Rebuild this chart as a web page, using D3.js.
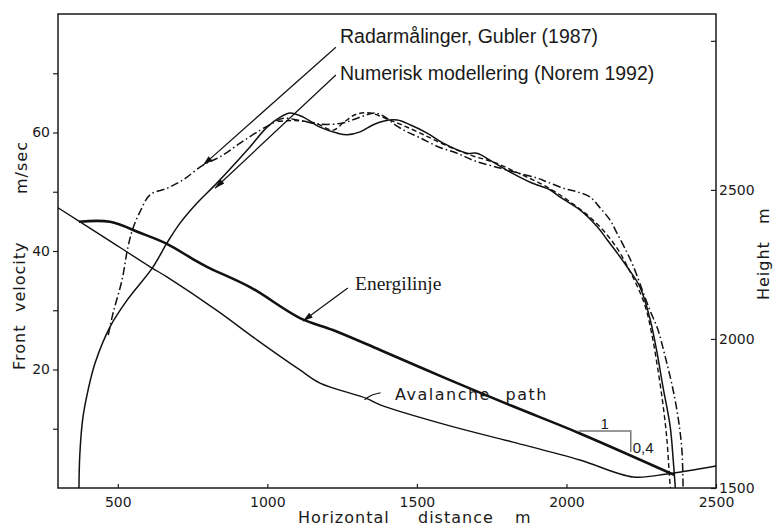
<!DOCTYPE html>
<html>
<head>
<meta charset="utf-8">
<script src="https://cdn.jsdelivr.net/npm/d3@7"></script>
<style>
  body { margin: 0; background: #fff; }
  svg text { fill: #1a1a1a; }
  .axis text { font-family: "DejaVu Sans", sans-serif; font-size: 14px; }
  .axis line { stroke: #222; stroke-width: 1.2; }
  .axis path { display: none; }
  .title { font-family: "DejaVu Sans", sans-serif; font-size: 16px; letter-spacing: 1px; }
</style>
</head>
<body>
<svg id="chart" width="778" height="529"></svg>
<script>
// horizontal distance (m) / front velocity (m/s) - solid line
var modelDist = [370, 373, 383, 400, 424, 474, 531, 615, 665, 708, 765, 832, 932, 999, 1043,
  1076, 1120, 1176, 1233, 1267, 1310, 1354, 1387, 1434, 1477, 1534, 1588, 1668, 1701, 1755,
  1812, 1879, 1946, 1979, 2046, 2103, 2136, 2169, 2203, 2246, 2280, 2303, 2323, 2347, 2357, 2364];
var modelVel = [0, 5.7, 11.8, 16.4, 21.1, 27.2, 31.7, 37.1, 41.4, 44.7, 48.1, 51.5, 57.0, 60.9, 62.6,
  63.3, 62.6, 60.9, 59.9, 59.6, 60.1, 61.3, 61.9, 62.1, 61.3, 59.9, 58.2, 56.5, 56.5, 55.0,
  53.3, 51.6, 50.3, 49.1, 46.9, 44.1, 41.9, 39.7, 37.3, 33.9, 28.4, 22.8, 17.0, 10.3, 4.7, 0];

// radar measurements - dash-dot
var radarDist = [468, 484, 514, 534, 551, 574, 608, 665, 718, 785, 842, 909, 976, 1019, 1053,
  1109, 1176, 1253, 1310, 1360, 1394, 1427, 1467, 1511, 1571, 1634, 1694, 1778, 1835, 1902,
  1938, 1995, 2035, 2079, 2112, 2146, 2169, 2203, 2223, 2256, 2279, 2306, 2329, 2353, 2373, 2386, 2390];
var radarVel = [25.8, 29.5, 35.1, 40.7, 43.9, 46.6, 49.5, 50.6, 52.0, 54.5, 55.9, 58.2, 60.4, 61.6, 62.4,
  62.0, 61.4, 61.6, 62.6, 63.3, 62.6, 61.3, 60.1, 59.1, 57.6, 56.5, 55.2, 54.0, 53.2, 52.3,
  51.6, 50.5, 50.0, 49.1, 47.3, 45.2, 43.0, 39.7, 37.5, 33.1, 30.0, 26.7, 22.4, 17.4, 12.0, 6.4, 0];

// second measured curve - dashed
var thirdDist = [1036, 1093, 1159, 1220, 1253, 1293, 1343, 1394, 1444, 1511, 1594, 1678, 1761,
  1845, 1928, 2012, 2096, 2162, 2219, 2262, 2286, 2306, 2323, 2336, 2343, 2347];
var thirdVel = [61.9, 62.0, 61.6, 60.4, 61.6, 63.0, 63.3, 62.4, 61.4, 59.9, 57.9, 56.2, 54.9,
  53.0, 51.0, 48.3, 44.9, 41.0, 35.9, 30.9, 25.8, 19.9, 14.0, 8.1, 3.0, 0];

// avalanche path (height m)
var pathDist = [300, 447, 608, 664, 832, 965, 1109, 1176, 1333, 1377, 1601, 1821, 2045, 2223, 2336, 2500];
var pathHeight = [2440, 2346, 2242, 2208, 2095, 1997, 1896, 1852, 1800, 1779, 1711, 1654, 1594, 1537, 1547, 1574];

// energy line (height m)
var energyDist = [370, 474, 574, 664, 751, 798, 942, 1109, 1219, 1377, 1601, 1821, 2045, 2360];
var energyHeight = [2393, 2393, 2356, 2319, 2268, 2242, 2174, 2070, 2030, 1963, 1866, 1774, 1683, 1544];

var xTicks = [500, 1000, 1500, 2000, 2500];
var velTicks = [10, 20, 30, 40, 50, 60, 70];
var velLabels = [20, 40, 60];
var hgtTicks = [1500, 2000, 2500, 3000];
var hgtLabels = [1500, 2000, 2500];

var svg = d3.select("#chart");

var x = d3.scaleLinear().domain([300, 2500]).range([58, 716]);
var yVel = d3.scaleLinear().domain([0, 80]).range([488, 14]);
var yHgt = d3.scaleLinear().domain([1500, 3090]).range([488, 14]);

// arrowhead
svg.append("defs").append("marker")
  .attr("id", "head")
  .attr("viewBox", "0 0 10 6")
  .attr("refX", 10).attr("refY", 3)
  .attr("markerWidth", 11).attr("markerHeight", 6)
  .attr("markerUnits", "userSpaceOnUse")
  .attr("orient", "auto")
  .append("path").attr("d", "M0,0 L10,3 L0,6 Z").attr("fill", "#111");

// axes
svg.append("g").attr("class", "axis")
  .attr("transform", "translate(0,488)")
  .call(d3.axisBottom(x).tickValues(xTicks).tickSize(-4).tickPadding(9).tickFormat(d3.format("d")));

svg.append("g").attr("class", "axis")
  .attr("transform", "translate(58,0)")
  .call(d3.axisLeft(yVel).tickValues(velTicks).tickSize(5).tickPadding(3)
    .tickFormat(function(d) { return velLabels.indexOf(d) >= 0 ? d : ""; }));

svg.append("g").attr("class", "axis")
  .attr("transform", "translate(716,0)")
  .call(d3.axisRight(yHgt).tickValues(hgtTicks).tickSize(-5).tickPadding(3)
    .tickFormat(function(d) { return hgtLabels.indexOf(d) >= 0 ? d : ""; }));

// frame
svg.append("rect")
  .attr("x", x(300)).attr("y", yVel(80))
  .attr("width", x(2500) - x(300)).attr("height", yVel(0) - yVel(80))
  .attr("fill", "none").attr("stroke", "#1a1a1a").attr("stroke-width", 1.5);

var curve = d3.curveCatmullRom.alpha(0.5);

function draw(dist, vals, yScale, width, dash) {
  var pts = dist.map(function(d, i) { return [d, vals[i]]; });
  svg.append("path")
    .datum(pts)
    .attr("fill", "none")
    .attr("stroke", "#111")
    .attr("stroke-width", width)
    .attr("stroke-dasharray", dash)
    .attr("d", d3.line().curve(curve)
      .x(function(d) { return x(d[0]); })
      .y(function(d) { return yScale(d[1]); }));
}

draw(pathDist, pathHeight, yHgt, 1.4, null);
draw(energyDist, energyHeight, yHgt, 2.6, null);
draw(modelDist, modelVel, yVel, 1.5, null);
draw(radarDist, radarVel, yVel, 1.5, "8,3,1.5,3");
draw(thirdDist, thirdVel, yVel, 1.4, "5,3");

// slope triangle 1 : 0.4
var triX = [2040, 2215];
var triH = [1691, 1621];
svg.append("path")
  .attr("d", "M" + x(triX[0]) + "," + yHgt(triH[0]) + "H" + x(triX[1]) + "V" + yHgt(triH[1]))
  .attr("fill", "none").attr("stroke", "#777").attr("stroke-width", 1.5);
svg.append("text").attr("x", (x(triX[0]) + x(triX[1])) / 2).attr("y", yHgt(triH[0]) - 2)
  .attr("text-anchor", "middle")
  .style("font-family", "Liberation Sans, Arial, sans-serif").style("font-size", "15px")
  .text("1");
svg.append("text").attr("x", x(triX[1]) + 2).attr("y", yHgt(triH[1]) + 1)
  .style("font-family", "Liberation Sans, Arial, sans-serif").style("font-size", "15px")
  .text("0,4");

// annotation arrows [tail dist, tail val, tip dist, tip val]
function arrow(a, yScale) {
  svg.append("line")
    .attr("x1", x(a[0])).attr("y1", yScale(a[1]))
    .attr("x2", x(a[2])).attr("y2", yScale(a[3]))
    .attr("stroke", "#111").attr("stroke-width", 1.2)
    .attr("marker-end", "url(#head)");
}
arrow([1229, 74.4, 785, 54.5], yVel);
arrow([1229, 69.7, 825, 50.6], yVel);
arrow([1269, 2171, 1119, 2060], yHgt);

svg.append("text").attr("x", 340).attr("y", 43)
  .style("font-family", "Liberation Sans, Arial, sans-serif").style("font-size", "19.5px")
  .text("Radarmålinger, Gubler (1987)");
svg.append("text").attr("x", 340).attr("y", 80)
  .style("font-family", "Liberation Sans, Arial, sans-serif").style("font-size", "19.5px")
  .text("Numerisk modellering (Norem 1992)");
svg.append("text").attr("x", 355).attr("y", 290)
  .style("font-family", "Liberation Serif, Times New Roman, serif").style("font-size", "19.5px")
  .text("Energilinje");

// avalanche path label with small leader
svg.append("path")
  .attr("d", "M" + x(1325) + "," + yHgt(1796) + " q6,-5 12,-6 l4,-1")
  .attr("fill", "none").attr("stroke", "#111").attr("stroke-width", 1.2);
svg.append("text").attr("x", 395).attr("y", 400)
  .attr("class", "title")
  .style("letter-spacing", "1.5px").style("word-spacing", "8px")
  .text("Avalanche path");

// axis titles
svg.append("text").attr("class", "title").attr("x", 298).attr("y", 523).text("Horizontal");
svg.append("text").attr("class", "title").attr("x", 418).attr("y", 523).text("distance");
svg.append("text").attr("class", "title").attr("x", 515).attr("y", 523).text("m");

svg.append("text").attr("class", "title").attr("transform", "translate(25,370) rotate(-90)").text("Front");
svg.append("text").attr("class", "title").attr("transform", "translate(25,312) rotate(-90)").text("velocity");
svg.append("text").attr("class", "title").attr("transform", "translate(27,194) rotate(-90)").text("m/sec");

svg.append("text").attr("class", "title").attr("transform", "translate(769,300) rotate(-90)").text("Height");
svg.append("text").attr("class", "title").attr("transform", "translate(769,224) rotate(-90)").text("m");
</script>
</body>
</html>
